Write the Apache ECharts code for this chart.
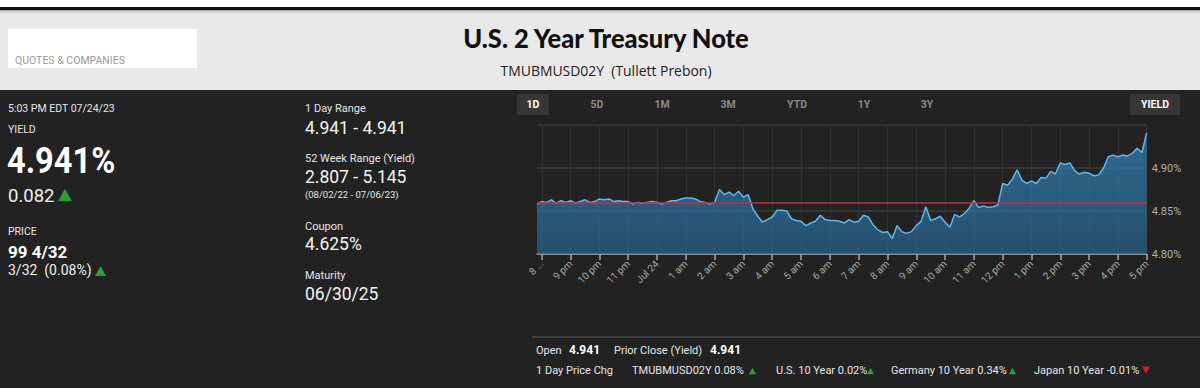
<!DOCTYPE html>
<html><head><meta charset="utf-8">
<script src="https://cdn.jsdelivr.net/npm/echarts@6/dist/echarts.min.js"></script>
<style>html,body{margin:0;padding:0;background:#222;}#c{width:1200px;height:388px;}</style>
</head><body><div id="c"></div>
<script>
// ---- data ----
const tickLabels = ["8 ...","9 pm","10 pm","11 pm","Jul 24","1 am","2 am","3 am","4 am","5 am","6 am","7 am","8 am","9 am","10 am","11 am","12 pm","1 pm","2 pm","3 pm","4 pm","5 pm"];
const yields = [
4.858,4.861,4.860,4.863,4.859,4.862,4.860,4.862,4.859,4.861,
4.863,4.860,4.861,4.864,4.863,4.864,4.861,4.862,4.861,4.861,
4.858,4.860,4.859,4.860,4.861,4.860,4.858,4.860,4.862,4.862,
4.864,4.865,4.865,4.864,4.861,4.860,4.858,4.860,4.875,4.869,
4.872,4.868,4.873,4.866,4.869,4.852,4.844,4.837,4.840,4.843,
4.851,4.851,4.850,4.841,4.839,4.838,4.833,4.836,4.838,4.845,
4.840,4.839,4.839,4.838,4.836,4.840,4.837,4.838,4.845,4.843,
4.834,4.828,4.825,4.826,4.818,4.833,4.826,4.824,4.826,4.833,
4.838,4.855,4.839,4.841,4.844,4.837,4.831,4.846,4.843,4.847,
4.853,4.862,4.854,4.856,4.854,4.855,4.857,4.882,4.880,4.887,
4.898,4.886,4.882,4.885,4.882,4.889,4.888,4.896,4.893,4.906,
4.904,4.906,4.897,4.893,4.895,4.894,4.891,4.892,4.900,4.913,
4.915,4.913,4.915,4.914,4.917,4.923,4.918,4.941];
const priorClose = 4.859;
const yMin = 4.80, yMax = 4.95, yStep = 0.05;
// time-of-day categories, 10-minute steps from 7:50 pm
const categories = yields.map((v, i) => {
  const m = (19 * 60 + 50 + 10 * i) % 1440;
  return String(Math.floor(m / 60)).padStart(2, '0') + ':' + String(m % 60).padStart(2, '0');
});
const hourTick = (i) => (i - 1) % 6 === 0;

// ---- rendering ----
const F = 'Roboto, "Noto Sans", sans-serif';
function txt(text, x, y, size, o) {
  o = o || {};
  return { type: 'text', x: x, y: y, z: 10, scaleX: o.sx || 1, originX: 0, originY: 0,
    style: { text: text, fill: o.c || '#e6e6e6', fontSize: size, fontWeight: o.w || 'normal',
      fontFamily: o.f || F, textAlign: o.a || 'left', textVerticalAlign: 'middle' } };
}
function tri(x, y, up, color, s) {
  s = s || 10;
  const h = s * 0.9;
  const pts = up ? [[x, y + h / 2], [x + s / 2, y - h / 2], [x + s, y + h / 2]]
                 : [[x, y - h / 2], [x + s, y - h / 2], [x + s / 2, y + h / 2]];
  return { type: 'polygon', z: 10, shape: { points: pts }, style: { fill: color } };
}
const G = '#2f9b3c', R = '#d8202a';
const graphics = [
  { type: 'rect', z: 0, shape: { x: 0, y: 0, width: 1200, height: 90 }, style: { fill: '#e9e9e9' } },
  { type: 'rect', z: 1, shape: { x: 0, y: 0, width: 1200, height: 7 }, style: { fill: '#ffffff' } },
  { type: 'rect', z: 1, shape: { x: 0, y: 7, width: 1200, height: 3.5 }, style: { fill: '#111111' } },
  { type: 'rect', z: 1, shape: { x: 0, y: 10.5, width: 1200, height: 2.5 }, style: { fill: '#d4d4d4' } },
  { type: 'rect', z: 1, shape: { x: 8, y: 29, width: 189, height: 39 }, style: { fill: '#ffffff' } },
  txt('QUOTES & COMPANIES', 15, 60, 10.5, { c: '#9a9a9a' }),
  txt('U.S. 2 Year Treasury Note', 606, 38, 26, { c: '#111', w: 900, a: 'center', f: 'Lato, Roboto, sans-serif', sx: 0.98 }),
  txt('TMUBMUSD02Y  (Tullett Prebon)', 606, 70, 15, { c: '#222', a: 'center', f: '"Open Sans", Roboto, sans-serif', sx: 0.93 }),
  // left column
  txt('5:03 PM EDT 07/24/23', 8, 108, 10.5),
  txt('YIELD', 8, 129, 10.5),
  txt('4.941%', 7, 161, 37, { c: '#ffffff', w: 'bold', sx: 0.88 }),
  txt('0.082', 8, 196, 18.5, { c: '#f0f0f0' }),
  tri(58, 195, true, G, 14),
  txt('PRICE', 8, 231, 10.5),
  txt('99 4/32', 8, 252, 17, { c: '#ffffff', w: 'bold' }),
  txt('3/32  (0.08%)', 8, 270, 14, { c: '#f0f0f0' }),
  tri(95, 271, true, G, 11),
  // middle column
  txt('1 Day Range', 305, 108, 11),
  txt('4.941 - 4.941', 305, 128, 17.5, { c: '#f4f4f4' }),
  txt('52 Week Range (Yield)', 305, 158, 11),
  txt('2.807 - 5.145', 305, 177, 17.5, { c: '#f4f4f4' }),
  txt('(08/02/22 - 07/06/23)', 305, 194, 9.5),
  txt('Coupon', 305, 226, 11),
  txt('4.625%', 305, 244, 17.5, { c: '#f4f4f4' }),
  txt('Maturity', 305, 275, 11),
  txt('06/30/25', 305, 294, 17.5, { c: '#f4f4f4' }),
  // range buttons
  { type: 'rect', z: 5, shape: { x: 517, y: 94, width: 32, height: 21 }, style: { fill: '#363636' } },
  txt('1D', 533, 104.5, 10.5, { c: '#fff', w: 'bold', a: 'center' }),
  txt('5D', 597, 104.5, 10.5, { c: '#8a8a8a', w: 'bold', a: 'center' }),
  txt('1M', 662, 104.5, 10.5, { c: '#8a8a8a', w: 'bold', a: 'center' }),
  txt('3M', 728, 104.5, 10.5, { c: '#8a8a8a', w: 'bold', a: 'center' }),
  txt('YTD', 797, 104.5, 10.5, { c: '#8a8a8a', w: 'bold', a: 'center' }),
  txt('1Y', 864, 104.5, 10.5, { c: '#8a8a8a', w: 'bold', a: 'center' }),
  txt('3Y', 927, 104.5, 10.5, { c: '#8a8a8a', w: 'bold', a: 'center' }),
  { type: 'rect', z: 5, shape: { x: 1130, y: 94, width: 50, height: 21 }, style: { fill: '#363636' } },
  txt('YIELD', 1155, 104.5, 10.5, { c: '#fff', w: 'bold', a: 'center' }),
  // bottom
  { type: 'line', z: 5, shape: { x1: 532, y1: 337, x2: 1200, y2: 337 }, style: { stroke: '#4a4a4a', lineWidth: 1.5 } },
  txt('Open', 536, 350, 11),
  txt('4.941', 569, 350, 12, { c: '#fff', w: 'bold' }),
  txt('Prior Close (Yield)', 614, 350, 11),
  txt('4.941', 710, 350, 12, { c: '#fff', w: 'bold' }),
  txt('1 Day Price Chg', 536, 370, 11),
  txt('TMUBMUSD02Y 0.08%', 632, 370, 11),
  tri(749, 371, true, G, 7),
  txt('U.S. 10 Year 0.02%', 776, 370, 11),
  tri(867, 371, true, G, 7),
  txt('Germany 10 Year 0.34%', 891, 370, 11),
  tri(1009, 371, true, G, 7),
  txt('Japan 10 Year -0.01%', 1034, 370, 11),
  tri(1142, 370, false, R, 8)
];

const chart = echarts.init(document.getElementById('c'), null, { renderer: 'svg' });
chart.setOption({
  backgroundColor: '#222222',
  animation: false,
  graphic: graphics,
  grid: { left: 537, right: 53.3, top: 125, bottom: 134, containLabel: false },
  xAxis: {
    type: 'category', data: categories, boundaryGap: false,
    axisLine: { lineStyle: { color: '#a8a8a8', width: 1.5 } },
    axisTick: { interval: hourTick, length: 6, lineStyle: { color: '#a8a8a8', width: 1.5 } },
    axisLabel: { interval: hourTick, rotate: 45, color: '#a8a8a8', fontSize: 10, fontFamily: F, margin: 8,
      formatter: (v, i) => tickLabels[(i - 1) / 6] },
    splitLine: { show: true, interval: hourTick, lineStyle: { color: '#313131', width: 1 } }
  },
  yAxis: {
    type: 'value', position: 'right', min: yMin, max: yMax, interval: yStep,
    axisLine: { show: false }, axisTick: { show: false },
    axisLabel: { showMaxLabel: false, color: '#b0b0b0', fontSize: 11, fontFamily: F, margin: 5,
      formatter: (v) => v.toFixed(2) + '%' },
    splitLine: { lineStyle: { color: '#3c3c3c', width: 1.5 } }
  },
  series: [{
    type: 'line', data: yields, showSymbol: false, smooth: false,
    lineStyle: { color: '#5cb8ee', width: 1.5 },
    areaStyle: { origin: 'start', color: new echarts.graphic.LinearGradient(0, 0, 0, 1, [
      { offset: 0, color: '#3488c0' }, { offset: 1, color: '#29628c' }]) },
    markLine: { silent: true, symbol: 'none', label: { show: false },
      lineStyle: { color: '#b8324a', width: 1.5, type: 'solid' },
      data: [{ yAxis: priorClose }] }
  }]
});
</script></body></html>
